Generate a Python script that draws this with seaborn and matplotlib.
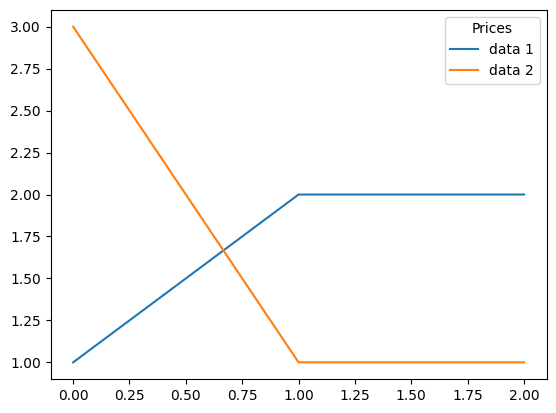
import pandas as pd
import seaborn as sns
import matplotlib
matplotlib.use("Agg")
import matplotlib.pyplot as plt

# Data
x_vals = [0, 1, 2]
data_1 = [1, 2, 2]
data_2 = [3, 1, 1]
series_names = ["data 1", "data 2"]

df = pd.DataFrame({
    "x": x_vals * 2,
    "y": data_1 + data_2,
    "series": [series_names[0]] * len(x_vals) + [series_names[1]] * len(x_vals),
})

fig, ax = plt.subplots(figsize=(5.56, 4.13), dpi=100)
fig.subplots_adjust(left=0.091, right=0.983, top=0.976, bottom=0.082)

sns.lineplot(data=df, x="x", y="y", hue="series",
             palette=["#1f77b4", "#ff7f0e"], ax=ax)

ax.set_xlabel("")
ax.set_ylabel("")
ax.set_xticks([0, 0.25, 0.5, 0.75, 1.0, 1.25, 1.5, 1.75, 2.0])
ax.set_yticks([1.0, 1.25, 1.5, 1.75, 2.0, 2.25, 2.5, 2.75, 3.0])
ax.legend(title="Prices", loc="upper right")

plt.savefig("out.png", dpi=100)
plt.close()
